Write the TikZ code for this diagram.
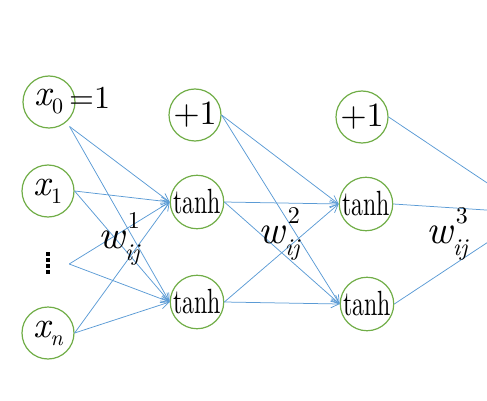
\documentclass[tikz,border=0pt]{standalone}
\usepackage{fontspec}
\setmainfont{lmroman10-regular.otf}[ItalicFont=lmroman10-italic.otf, BoldFont=lmroman10-bold.otf]
\usetikzlibrary{arrows.meta,calc}
\definecolor{cgreen}{HTML}{70AD47}
\definecolor{cblue}{HTML}{5B9BD5}
\newcommand{\fs}[1]{\fontsize{#1}{#1}\selectfont}
\newcommand{\xvar}[1]{{\fs{37}\itshape x}\raisebox{-8pt}{\fs{22}#1}}
\newcommand{\wlab}[1]{{\fs{40}\itshape w}\rlap{\kern3pt\raisebox{20pt}{\fs{24}#1}}\raisebox{-12pt}{\fs{24}\itshape ij}}
\newcommand{\tanhtxt}{\scalebox{0.68}[1]{\fs{35}tanh}}
\begin{document}
\begin{tikzpicture}[x=1pt,y=1pt,
  neuron/.style={circle, draw=cgreen, line width=1.2pt, minimum size=52pt, inner sep=0pt},
  conn/.style={draw=cblue, line width=0.75pt, -{Straight Barb[length=8pt,width=8pt]}},
  lbl/.style={inner sep=0pt}]
\useasboundingbox (0,0) rectangle (487,-401);
\clip (0,0) rectangle (487,-401);
% input layer
\node[neuron] (x0) at (49,-102) {\xvar{0}};
\node[lbl, anchor=base west] (eq) at (69,-109) {\fs{32}=1};
\node[neuron] (x1) at (48,-191) {\xvar{1}};
\node[minimum width=42pt, minimum height=23pt, inner sep=0pt] (dots) at (48,-264) {};
\draw[black, line width=3.5pt, dash pattern=on 4pt off 2pt] (dots.north) -- (dots.south);
\node[neuron] (xn) at (48,-333) {\xvar{\itshape n}};
% hidden layer 1
\node[neuron] (b1) at (195,-115) {\fs{34}+1};
\node[neuron] (h11) at (197,-202) {\tanhtxt};
\node[neuron] (h12) at (197,-302) {\tanhtxt};
% hidden layer 2
\node[neuron] (b2) at (362,-117) {\fs{34}+1};
\node[neuron] (h21) at (366,-204) {\tanhtxt};
\node[neuron] (h22) at (367,-304) {\tanhtxt};
\coordinate (out) at (532,-213);
\coordinate (x0s) at ($(x0.center)+(-50:32)$);
% connections layer 0 -> 1
\foreach \t in {h11,h12}{
  \draw[conn] (x0s) -- (\t.west);
  \draw[conn] (x1.east) -- (\t.west);
  \draw[conn] (dots.east) -- (\t.west);
  \draw[conn] (xn.east) -- (\t.west);
}
% layer 1 -> 2
\foreach \t in {h21,h22}{
  \draw[conn] (b1.east) -- (\t.west);
  \draw[conn] (h11.east) -- (\t.west);
  \draw[conn] (h12.east) -- (\t.west);
}
% layer 2 -> out
\draw[conn] (b2.east) -- (out);
\draw[conn] (h21.east) -- (out);
\draw[conn] (h22.east) -- (out);
% weight labels
\node[lbl, anchor=base west] (w1) at (98,-248) {\wlab{1}};
\node[lbl, anchor=base west] (w2) at (258,-243) {\wlab{2}};
\node[lbl, anchor=base west] (w3) at (426,-243) {\wlab{3}};
\end{tikzpicture}
\end{document}
